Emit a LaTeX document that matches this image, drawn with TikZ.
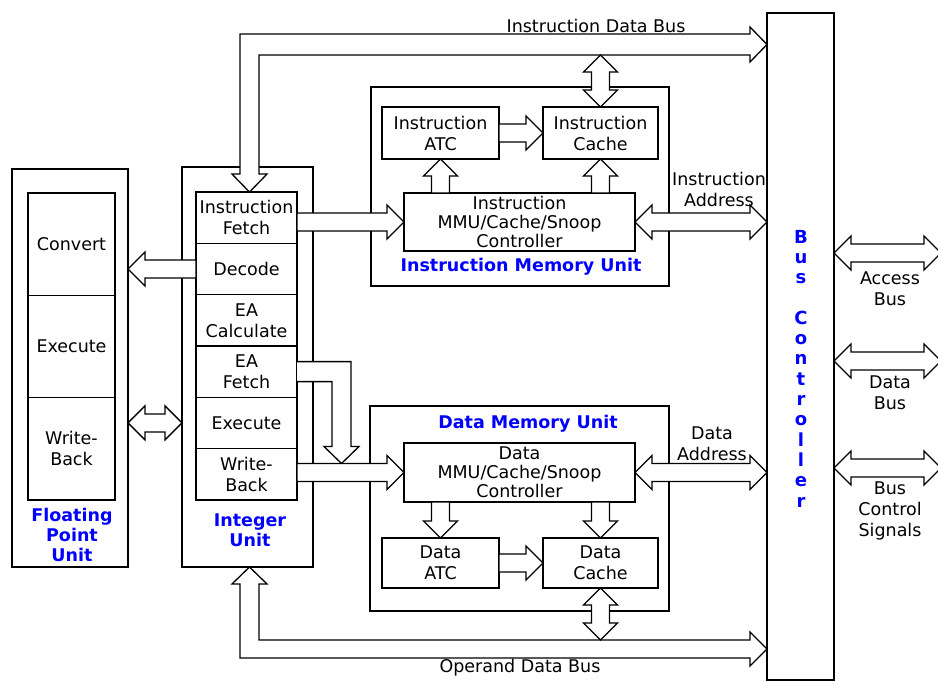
\documentclass[tikz,border=0pt]{standalone}
\usepackage{fontspec}
\setmainfont{DejaVu Sans}
\usetikzlibrary{positioning,calc}

\newcommand{\fatarrow}[2]{%
 \path #1 coordinate (fa1) #2 coordinate (fa2);
 \coordinate (fah) at ($(fa2)!17pt!(fa1)$);
 \filldraw[bus] ($(fa1)!9pt!90:(fa2)$) -- ($(fah)!9pt!90:(fa2)$) -- ($(fah)!17pt!90:(fa2)$) -- (fa2)
  -- ($(fah)!17pt!-90:(fa2)$) -- ($(fah)!9pt!-90:(fa2)$) -- ($(fa1)!9pt!-90:(fa2)$) -- cycle;}
\newcommand{\dblarrow}[2]{%
 \path #1 coordinate (fa1) #2 coordinate (fa2);
 \coordinate (fah1) at ($(fa1)!17pt!(fa2)$);
 \coordinate (fah2) at ($(fa2)!17pt!(fa1)$);
 \filldraw[bus] (fa1) -- ($(fah1)!17pt!90:(fa2)$) -- ($(fah1)!9pt!90:(fa2)$) -- ($(fah2)!9pt!90:(fa2)$)
  -- ($(fah2)!17pt!90:(fa2)$) -- (fa2) -- ($(fah2)!17pt!-90:(fa2)$) -- ($(fah2)!9pt!-90:(fa2)$)
  -- ($(fah1)!9pt!-90:(fa2)$) -- ($(fah1)!17pt!-90:(fa2)$) -- cycle;}

\begin{document}
\begin{tikzpicture}[x=1pt,y=-1pt,font=\fontsize{17.5}{21}\selectfont,
 blk/.style={draw,line width=1.3pt,align=center,inner sep=0pt,outer sep=0pt},
 unit/.style={blk},
 stg/.style={blk,minimum width=101,minimum height=51.3},
 fst/.style={blk,minimum width=87,minimum height=102.3},
 ttl/.style={font=\fontsize{17.5}{20}\selectfont\bfseries,text=blue,align=center},
 bus/.style={fill=white,draw,line width=1.3pt,line join=miter},
 txt/.style={align=center,inner sep=0pt}]
\useasboundingbox[fill=white] (0,0) rectangle (938,682);
% units
\node[unit,minimum width=116,minimum height=398] (fpu) at (70,368) {};
\node[unit,minimum width=131,minimum height=400] (iu) at (247.5,367) {};
\node[unit,minimum width=298,minimum height=199] (imu) at (520,186.5) {};
\node[unit,minimum width=299,minimum height=205] (dmu) at (519.5,508.5) {};
\node[unit,minimum width=67,minimum height=667] (bc) at (800.5,346.5) {};
% floating point unit
\node[fst] (fconv) at (71.5,244.2) {Convert};
\node[fst,below=0pt of fconv] (fexec) {Execute};
\node[fst,below=0pt of fexec] (fwb) {Write-\\Back};
% integer unit
\node[stg] (ifetch) at (246.5,217.7) {Instruction\\Fetch};
\node[stg,below=0pt of ifetch] (decode) {Decode};
\node[stg,below=0pt of decode] (eacalc) {EA\\Calculate};
\node[stg,below=0pt of eacalc] (eafetch) {EA\\Fetch};
\node[stg,below=0pt of eafetch] (iexec) {Execute};
\node[stg,below=0pt of iexec] (iwback) {Write-\\Back};
% memory units
\node[blk,minimum width=117,minimum height=52] (iatc) at (440.5,133) {Instruction\\ATC};
\node[blk,minimum width=115,minimum height=52,right=44pt of iatc] (icache) {Instruction\\Cache};
\node[blk,minimum width=231,minimum height=58,font=\fontsize{17.5}{19}\selectfont] (immu) at (519.5,222)
 {Instruction\\MMU/Cache/Snoop\\Controller};
\node[blk,minimum width=231,minimum height=59,font=\fontsize{17.5}{19}\selectfont] (dmmu) at (519.5,472.5)
 {Data\\MMU/Cache/Snoop\\Controller};
\node[blk,minimum width=117,minimum height=50] (datc) at (440.5,563) {Data\\ATC};
\node[blk,minimum width=115,minimum height=50,right=44pt of datc] (dcache) {Data\\Cache};
% buses
\coordinate (idbc) at (249.5,44.5);
\coordinate (odbc) at (249.5,649);
\filldraw[bus] (idbc |- ifetch.north) -- ++(-17.5,-18) -- ++(8,0) |- ($(idbc -| bc.west)+(-17,-10.5)$)
 -- ++(0,-7) -- (idbc -| bc.west) -- ++(-17,17.5) -- ++(0,-7) -| ($(idbc |- ifetch.north)+(9.5,-18)$)
 -- ++(8,0) -- cycle;
\filldraw[bus] (odbc |- iu.south) -- ++(-17.5,17) -- ++(8,0) |- ($(odbc -| bc.west)+(-17,9)$)
 -- ++(0,8) -- (odbc -| bc.west) -- ++(-17,-17) -- ++(0,8) -| ($(odbc |- iu.south)+(9.5,17)$)
 -- ++(8,0) -- cycle;
\coordinate (eatip) at ($(dmmu.west)+(-62.5,-9)$);
\filldraw[bus] ($(eafetch.east)+(0,-10)$) -| ($(eatip)+(9.5,-17)$) -- ++(8,0) -- (eatip)
 -- ++(-17.5,-17) -- ++(8,0) |- ($(eafetch.east)+(0,10)$);
\fatarrow{(immu.west -| ifetch.east)}{(immu.west)}
\fatarrow{(dmmu.west -| iwback.east)}{(dmmu.west)}
\fatarrow{(decode.west)}{(decode.west -| fpu.east)}
\fatarrow{(iatc.east)}{(icache.west)}
\fatarrow{(datc.east)}{(dcache.west)}
\fatarrow{(iatc.south |- immu.north)}{(iatc.south)}
\fatarrow{(icache.south |- immu.north)}{(icache.south)}
\fatarrow{(datc.north |- dmmu.south)}{(datc.north)}
\fatarrow{(dcache.north |- dmmu.south)}{(dcache.north)}
\dblarrow{(icache.north)}{($(icache.north |- idbc)+(0,10.5)$)}
\dblarrow{(dcache.south)}{($(dcache.south |- odbc)+(0,-9)$)}
\dblarrow{(immu.east)}{(immu.east -| bc.west)}
\dblarrow{(dmmu.east)}{(dmmu.east -| bc.west)}
\dblarrow{(iexec.west -| fpu.east)}{(iexec.west -| iu.west)}
\coordinate (accend) at (941,253);
\coordinate (datend) at (941,361);
\coordinate (ctlend) at (941,468);
\dblarrow{(bc.east |- accend)}{(accend)}
\dblarrow{(bc.east |- datend)}{(datend)}
\dblarrow{(bc.east |- ctlend)}{(ctlend)}
% labels
\node[ttl] (fpulbl) at (72,535) {Floating\\Point\\Unit};
\node[ttl] (iulbl) at (250,530) {Integer\\Unit};
\node[ttl] (imulbl) at (521,267) {Instruction Memory Unit};
\node[ttl] (dmulbl) at (528,424) {Data Memory Unit};
\node[ttl,font=\fontsize{18}{20.3}\selectfont\bfseries] (bclbl) at (801,368.5)
 {B\\u\\s\\[20.3pt]C\\o\\n\\t\\r\\o\\l\\l\\e\\r};
\node[txt] (idblbl) at (596,26) {Instruction Data Bus};
\node[txt] (odblbl) at (520,668) {Operand Data Bus};
\node[txt] (ialbl) at (719,189) {Instruction\\Address};
\node[txt] (dalbl) at (712,444) {Data\\Address};
\node[txt] (acclbl) at (890,289) {Access\\Bus};
\node[txt] (datlbl) at (890,393) {Data\\Bus};
\node[txt] (ctllbl) at (890,511) {Bus\\Control\\Signals};
\end{tikzpicture}
\end{document}
